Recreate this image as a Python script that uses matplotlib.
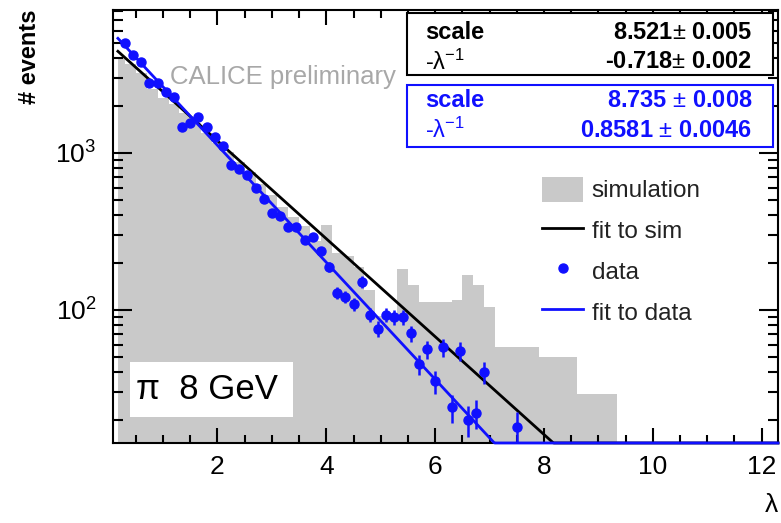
import numpy as np
import matplotlib.pyplot as plt
from matplotlib.patches import Rectangle, Patch
from matplotlib.lines import Line2D
from matplotlib.ticker import MultipleLocator, LogLocator, NullFormatter

plt.rcParams['font.family'] = ['Liberation Sans', 'DejaVu Sans']
plt.rcParams['mathtext.fontset'] = 'custom'
plt.rcParams['mathtext.rm'] = 'Liberation Sans'
plt.rcParams['mathtext.it'] = 'Liberation Sans:italic'
plt.rcParams['mathtext.bf'] = 'Liberation Sans:bold'

# simulation histogram (variable bins in the tail)
sim_edges = [0.18, 0.3, 0.5, 0.7, 0.9, 1.1, 1.3, 1.5, 1.7, 1.9, 2.1, 2.3, 2.5,
             2.7, 2.9, 3.1, 3.3, 3.5, 3.7, 3.9, 4.1, 4.3, 4.5, 4.7, 4.9, 5.1,
             5.3, 5.5, 5.7, 5.9, 6.1, 6.3, 6.5, 6.7, 6.9, 7.1, 7.9, 8.6, 9.35]
sim_counts = [4100, 3700, 3250, 2550, 2250, 2050, 1800, 1560, 1340, 1160,
              1010, 870, 760, 630, 540, 450, 390, 340, 275, 348,
              230, 220, 188, 134, 92, 92, 183, 144, 112, 112,
              112, 116, 167, 144, 105, 58, 50, 29]

# data points, bins of 0.15 starting at 0.3
bin_width = 0.15
data_counts = [5020, 4210, 3800, 2790, 2790, 2450, 2270, 1460, 1550, 1700,
               1460, 1260, 1110, 839, 791, 724, 599, 509, 415, 397,
               338, 338, 279, 292, 238, 188, 128, 121, 109, 151,
               93, 76, 93, 90, 90, 71, 45, 56, 35, 58,
               24, 55, 20, 22, 40]
data_x = list(np.round(0.3 + bin_width * np.arange(len(data_counts)), 3)) + [7.5]
data_counts = data_counts + [18]

# fit results: exp(scale + slope * lambda)
fit_sim = (8.521, -0.718)
fit_data = (8.735, -0.8581)

xmin, xmax = 0.08, 12.3
ymin, ymax = 14.2, 8150
blue = '#1010ff'

fig = plt.figure(figsize=(7.81, 5.23), dpi=100)
ax = fig.add_axes([0.1447, 0.153, 0.8515, 0.828])
ax.set_yscale('log')

ax.stairs(sim_counts, sim_edges, fill=True, color='#c9c9c9', lw=0,
          baseline=1, zorder=1)

xf = np.linspace(0.17, xmax, 600)
ys = np.maximum(np.exp(fit_sim[0] + fit_sim[1] * xf), ymin)
yd = np.maximum(np.exp(fit_data[0] + fit_data[1] * xf), ymin)
ax.plot(xf, ys, color='black', lw=2, zorder=3, clip_on=False)
ax.plot(xf, yd, color=blue, lw=2, zorder=3.1, clip_on=False)

ax.errorbar(data_x, data_counts, yerr=np.sqrt(data_counts), fmt='o',
            color=blue, ms=6.5, elinewidth=1.8, capsize=0, zorder=4)

ax.set_xlim(xmin, xmax)
ax.set_ylim(ymin, ymax)
ax.xaxis.set_major_locator(MultipleLocator(2))
ax.xaxis.set_minor_locator(MultipleLocator(0.5))
ax.yaxis.set_major_locator(LogLocator(base=10))
ax.yaxis.set_minor_locator(LogLocator(base=10, subs=np.arange(2, 10)))
ax.yaxis.set_minor_formatter(NullFormatter())
ax.tick_params(which='both', direction='in', top=True, right=True, width=1.5,
               labelsize=19, colors='black')
ax.tick_params(axis='x', which='major', length=11, pad=9)
ax.tick_params(axis='x', which='minor', length=6)
ax.tick_params(axis='y', which='major', length=14, pad=12)
ax.tick_params(axis='y', which='minor', length=7)
for sp in ax.spines.values():
    sp.set_linewidth(1.5)
    sp.set_zorder(2.5)

# stat boxes
ax.add_patch(Rectangle((0.442, 0.850), 0.55, 0.143, transform=ax.transAxes,
                       facecolor='white', edgecolor='black', lw=1.5, zorder=5))
ax.add_patch(Rectangle((0.442, 0.684), 0.55, 0.143, transform=ax.transAxes,
                       facecolor='white', edgecolor=blue, lw=1.5, zorder=5))
stat_rows = [
    (0.949, 'scale', 'bold', '8.521$\\pm$ 0.005', 'black'),
    (0.880, '-\u03bb$^{-1}$', 'normal', '-0.718$\\pm$ 0.002', 'black'),
    (0.790, 'scale', 'bold', '8.735 $\\pm$ 0.008', blue),
    (0.722, '-\u03bb$^{-1}$', 'normal', '0.8581 $\\pm$ 0.0046', blue),
]
for y, name, weight, val, col in stat_rows:
    ax.text(0.469, y, name, transform=ax.transAxes, fontsize=17,
            fontweight=weight, color=col, va='center', ha='left', zorder=6)
    ax.text(0.961, y, val, transform=ax.transAxes, fontsize=17,
            fontweight='bold', color=col, va='center', ha='right', zorder=6)

ax.text(0.086, 0.844, 'CALICE preliminary', transform=ax.transAxes,
        fontsize=18.5, color='#a8a8a8', va='center', ha='left', zorder=2)

ax.add_patch(Rectangle((0.026, 0.060), 0.245, 0.127, transform=ax.transAxes,
                       facecolor='white', edgecolor='none', zorder=5))
ax.text(0.034, 0.124, '\u03c0  8 GeV', transform=ax.transAxes, fontsize=25,
        va='center', ha='left', zorder=6)

handles = [Patch(facecolor='#c9c9c9', edgecolor='none'),
           Line2D([], [], color='black', lw=2),
           Line2D([], [], color=blue, marker='o', ms=6.5, ls='none'),
           Line2D([], [], color=blue, lw=2)]
labels = ['simulation', 'fit to sim', 'data', 'fit to data']
leg = ax.legend(handles, labels, loc='upper left', bbox_to_anchor=(0.645, 0.615),
                frameon=False, fontsize=17.5, handlelength=1.7, handleheight=1.2,
                handletextpad=0.35, labelspacing=0.62, borderpad=0,
                borderaxespad=0)
for t in leg.get_texts():
    t.set_color('#222222')

fig.text(0.038, 0.981, '# events', rotation=90, ha='center', va='top',
         fontsize=17, fontweight='bold')
fig.text(0.988, 0.034, '\u03bb', ha='center', va='center', fontsize=19)

fig.savefig('out.png', dpi=100)
